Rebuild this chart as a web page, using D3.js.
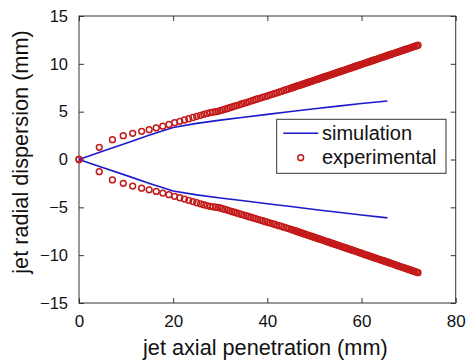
<!DOCTYPE html>
<html><head><meta charset="utf-8">
<script src="https://cdn.jsdelivr.net/npm/d3@7"></script>
<style>html,body{margin:0;padding:0;background:#fff;}svg{display:block;font-family:"Liberation Sans",Arial,sans-serif;}</style>
</head><body><svg id="c" width="466" height="363"></svg>
<script>
const xTicks = [0, 20, 40, 60, 80];
const yTicks = [-15, -10, -5, 0, 5, 10, 15];
const xLabel = "jet axial penetration (mm)";
const yLabel = "jet radial dispersion (mm)";
const seriesNames = ["simulation", "experimental"];

const simX = [0, 5, 10, 15, 20, 25, 30, 35, 40, 45, 50, 55, 60, 65.5];
const simUpper = [0, 0.85, 1.7, 2.55, 3.35, 3.78, 4.12, 4.42, 4.72, 5.02, 5.3, 5.58, 5.85, 6.12];
const simLower = [0, -0.83, -1.66, -2.5, -3.3, -3.7, -4.02, -4.32, -4.62, -4.92, -5.22, -5.52, -5.8, -6.1];

const expX = [0, 4.3, 7.1, 9.4, 11.4, 13.3, 14.9, 16.4, 17.8, 19.1, 20.3, 21.4, 22.4, 23.3, 24.2, 25.0, 25.8, 26.5, 27.2, 27.9, 28.5, 29.0,
  29.5, 30, 30.5, 31, 31.5, 32, 32.5, 33, 33.5, 34, 34.5, 35, 35.5, 36, 36.5, 37, 37.5, 38, 38.5, 39, 39.5, 40, 40.5, 41, 41.5, 42, 42.5, 43, 43.5, 44, 44.5, 45,
  45.3, 45.6, 45.9, 46.2, 46.5, 46.8, 47.1, 47.4, 47.7, 48.0, 48.3, 48.6, 48.9, 49.2, 49.5, 49.8, 50.1, 50.4, 50.7, 51.0, 51.3, 51.6, 51.9, 52.2, 52.5, 52.8,
  53.1, 53.4, 53.7, 54.0, 54.3, 54.6, 54.9, 55.2, 55.5, 55.8, 56.1, 56.4, 56.7, 57.0, 57.3, 57.6, 57.9, 58.2, 58.5, 58.8, 59.1, 59.4, 59.7, 60.0,
  60.3, 60.6, 60.9, 61.2, 61.5, 61.8, 62.1, 62.4, 62.7, 63.0, 63.3, 63.6, 63.9, 64.2, 64.5, 64.8, 65.1, 65.4, 65.7, 66.0, 66.3, 66.6, 66.9, 67.2,
  67.5, 67.8, 68.1, 68.4, 68.7, 69.0, 69.3, 69.6, 69.9, 70.2, 70.5, 70.8, 71.1, 71.4, 71.7, 72.0];
const expUpper = [0, 1.27, 2.07, 2.49, 2.74, 2.95, 3.12, 3.30, 3.48, 3.66, 3.84, 3.99, 4.13, 4.26, 4.39, 4.51, 4.62, 4.72, 4.82, 4.90, 4.96, 5.00,
  5.04, 5.11, 5.18, 5.26, 5.33, 5.41, 5.49, 5.57, 5.64, 5.72, 5.80, 5.87, 5.95, 6.03, 6.11, 6.19, 6.27, 6.35, 6.42, 6.50, 6.58, 6.65, 6.73, 6.81, 6.89, 6.97, 7.05, 7.13, 7.21, 7.29, 7.37, 7.45,
  7.51, 7.56, 7.62, 7.67, 7.71, 7.75, 7.80, 7.85, 7.90, 7.95, 8.00, 8.05, 8.10, 8.15, 8.20, 8.25, 8.30, 8.35, 8.40, 8.45, 8.50, 8.55, 8.60, 8.65, 8.70, 8.75,
  8.80, 8.85, 8.90, 8.95, 9.00, 9.05, 9.10, 9.15, 9.20, 9.25, 9.30, 9.35, 9.40, 9.45, 9.50, 9.55, 9.60, 9.65, 9.70, 9.75, 9.80, 9.85, 9.90, 9.95,
  10.00, 10.05, 10.10, 10.15, 10.20, 10.25, 10.30, 10.35, 10.40, 10.45, 10.50, 10.55, 10.60, 10.65, 10.70, 10.75, 10.80, 10.85, 10.90, 10.95, 11.00, 11.05, 11.10, 11.15,
  11.20, 11.25, 11.30, 11.35, 11.40, 11.45, 11.50, 11.55, 11.60, 11.65, 11.70, 11.75, 11.80, 11.85, 11.90, 11.95];
const expLower = [0, -1.27, -2.14, -2.49, -2.78, -3.0, -3.17, -3.34, -3.51, -3.68, -3.85, -4.00, -4.14, -4.27, -4.40, -4.52, -4.63, -4.73, -4.82, -4.90, -4.95, -4.98,
  -5.00, -5.07, -5.14, -5.22, -5.29, -5.37, -5.44, -5.51, -5.59, -5.66, -5.74, -5.81, -5.88, -5.96, -6.03, -6.11, -6.18, -6.25, -6.33, -6.40, -6.48, -6.55, -6.62, -6.70, -6.77, -6.85, -6.92, -6.99, -7.07, -7.14, -7.22, -7.30,
  -7.35, -7.40, -7.45, -7.50, -7.55, -7.60, -7.65, -7.70, -7.75, -7.80, -7.85, -7.90, -7.95, -8.00, -8.05, -8.10, -8.15, -8.20, -8.25, -8.30, -8.35, -8.40, -8.45, -8.50, -8.55, -8.60,
  -8.65, -8.70, -8.75, -8.80, -8.85, -8.90, -8.95, -9.00, -9.05, -9.10, -9.15, -9.20, -9.25, -9.30, -9.35, -9.40, -9.45, -9.50, -9.55, -9.60, -9.65, -9.70, -9.75, -9.80,
  -9.86, -9.91, -9.96, -10.01, -10.06, -10.11, -10.16, -10.21, -10.26, -10.31, -10.36, -10.41, -10.46, -10.51, -10.56, -10.61, -10.66, -10.71, -10.76, -10.81, -10.86, -10.91, -10.96, -11.01,
  -11.07, -11.12, -11.17, -11.22, -11.27, -11.32, -11.37, -11.42, -11.47, -11.52, -11.57, -11.62, -11.67, -11.72, -11.78, -11.83];

const svg = d3.select("#c");
const L = 79, R = 455.7, T = 16, B = 303;
const x = d3.scaleLinear().domain([0, 80]).range([L, R]);
const y = d3.scaleLinear().domain([-15, 15]).range([B, T]);
const axisCol = "#333";

// frame
svg.append("rect").attr("x", L).attr("y", T).attr("width", R - L).attr("height", B - T)
  .attr("fill", "none").attr("stroke", axisCol).attr("stroke-width", 1);

const gx = svg.append("g").attr("transform", `translate(0,${B})`)
  .call(d3.axisBottom(x).tickValues(xTicks).tickSize(-5).tickPadding(12).tickSizeOuter(0));
const gxt = svg.append("g").attr("transform", `translate(0,${T})`)
  .call(d3.axisTop(x).tickValues(xTicks).tickSize(-5).tickFormat("").tickSizeOuter(0));
const gy = svg.append("g").attr("transform", `translate(${L},0)`)
  .call(d3.axisLeft(y).tickValues(yTicks).tickSize(-5).tickPadding(11).tickSizeOuter(0));
const gyr = svg.append("g").attr("transform", `translate(${R},0)`)
  .call(d3.axisRight(y).tickValues(yTicks).tickSize(-5).tickFormat("").tickSizeOuter(0));
[gx, gxt, gy, gyr].forEach(g => {
  g.select(".domain").remove();
  g.selectAll("line").attr("stroke", axisCol);
  g.selectAll("text").attr("fill", "#111").style("font-family", '"Liberation Sans", Arial, sans-serif');
});
gx.selectAll("text").style("font-size", "17px");
gy.selectAll("text").style("font-size", "16.5px");

// simulation lines
const line = d3.line().x(d => x(d[0])).y(d => y(d[1]));
const simCol = "#1a1acc";
[simUpper, simLower].forEach(arr => {
  svg.append("path").datum(simX.map((v, i) => [v, arr[i]]))
    .attr("d", line).attr("fill", "none").attr("stroke", simCol).attr("stroke-width", 1.6);
});

// experimental markers
const expCol = "#c41a1a";
[expUpper, expLower].forEach(arr => {
  svg.append("g").selectAll("circle").data(expX.map((v, i) => [v, arr[i]])).join("circle")
    .attr("cx", d => x(d[0])).attr("cy", d => y(d[1])).attr("r", 2.9)
    .attr("fill", "none").attr("stroke", expCol).attr("stroke-width", 1.5);
});

// axis labels
svg.append("text").attr("x", (L + R) / 2 - 2).attr("y", 355).attr("text-anchor", "middle")
  .style("font-size", "21.7px").attr("fill", "#111").text(xLabel);
svg.append("text").attr("transform", `translate(28,152) rotate(-90)`).attr("text-anchor", "middle")
  .style("font-size", "21.7px").attr("fill", "#111").text(yLabel);

// legend
const lg = svg.append("g");
lg.append("rect").attr("x", 276.7).attr("y", 119.3).attr("width", 169.3).attr("height", 54)
  .attr("fill", "#fff").attr("stroke", axisCol).attr("stroke-width", 1);
lg.append("line").attr("x1", 283.3).attr("x2", 318.3).attr("y1", 133.3).attr("y2", 133.3)
  .attr("stroke", simCol).attr("stroke-width", 1.6);
lg.append("text").attr("x", 322).attr("y", 140).style("font-size", "20px").attr("fill", "#111").text(seriesNames[0]);
lg.append("circle").attr("cx", 300.7).attr("cy", 157.7).attr("r", 2.9)
  .attr("fill", "none").attr("stroke", expCol).attr("stroke-width", 1.5);
lg.append("text").attr("x", 322).attr("y", 164).style("font-size", "20px").attr("fill", "#111").text(seriesNames[1]);
</script></body></html>
